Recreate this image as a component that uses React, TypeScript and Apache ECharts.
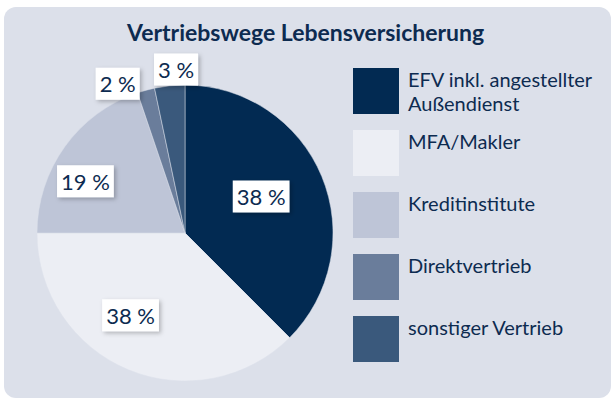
import React, { useEffect, useRef } from "react";
import * as echarts from "echarts";

const titleText = "Vertriebswege Lebensversicherung";
const categories = [
  "EFV inkl. angestellter Außendienst",
  "MFA/Makler",
  "Kreditinstitute",
  "Direktvertrieb",
  "sonstiger Vertrieb",
];
const legendLabels = [
  "EFV inkl. angestellter\nAußendienst",
  "MFA/Makler\n",
  "Kreditinstitute\n",
  "Direktvertrieb\n",
  "sonstiger Vertrieb\n",
];
// shares (percent)
const shares = [37.5, 37.5, 19.8, 1.9, 3.3];
// percentages as printed on the labels
const shareLabels = ["38 %", "38 %", "19 %", "2 %", "3 %"];
const colors = ["#022a52", "#eceef4", "#bec5d7", "#6a7d9b", "#3a597c"];
// label nudges from the default inside position
const labelShift = [
  [5, -7],
  [-25, 11],
  [-37, -7],
  [-47, -75],
  [-1, -87],
];

const FONT = "Lato, 'Open Sans', sans-serif";
const TEXT = "#0d2b50";

export default function App() {
  const ref = useRef<HTMLDivElement>(null);
  useEffect(() => {
    if (!ref.current) return;
    const chart = echarts.init(ref.current, undefined, { renderer: "svg" });
    chart.setOption({
      animation: false,
      backgroundColor: "#ffffff",
      graphic: [
        {
          type: "rect",
          z: -10,
          silent: true,
          shape: { x: 4, y: 7, width: 607, height: 391, r: 12 },
          style: { fill: "#dce0ea" },
        },
      ],
      title: {
        text: titleText,
        left: 127,
        top: 20,
        padding: 0,
        textStyle: {
          fontFamily: FONT,
          fontWeight: "bold",
          fontSize: 23,
          color: TEXT,
        },
      },
      legend: {
        orient: "vertical",
        left: 353,
        top: 67,
        padding: 0,
        itemWidth: 46,
        itemHeight: 46,
        itemGap: 14,
        icon: "rect",
        selectedMode: false,
        itemStyle: { borderWidth: 0 },
        data: categories,
        formatter: (name: string) => legendLabels[categories.indexOf(name)],
        textStyle: {
          fontFamily: FONT,
          fontSize: 20,
          lineHeight: 24,
          color: TEXT,
          padding: [0, 0, 0, 4],
        },
      },
      series: [
        {
          type: "pie",
          center: [185, 233],
          radius: 148,
          startAngle: 90,
          clockwise: true,
          silent: true,
          emphasis: { disabled: true },
          itemStyle: { borderColor: "#dce0ea", borderWidth: 0.5 },
          label: {
            show: true,
            position: "inside",
            formatter: (p: any) => shareLabels[p.dataIndex],
            fontFamily: FONT,
            fontSize: 22,
            lineHeight: 26,
            color: TEXT,
            backgroundColor: "#ffffff",
            padding: [3, 4, 3, 4],
            shadowColor: "rgba(0,0,0,0.25)",
            shadowBlur: 4,
            shadowOffsetX: 2,
            shadowOffsetY: 2,
          },
          labelLine: { show: false },
          labelLayout: (params: any) => ({
            dx: labelShift[params.dataIndex][0],
            dy: labelShift[params.dataIndex][1],
          }),
          data: categories.map((name, i) => ({
            name,
            value: shares[i],
            itemStyle: { color: colors[i] },
          })),
        },
      ],
    });
    return () => chart.dispose();
  }, []);
  return (
    <div
      ref={ref}
      style={{ position: "fixed", left: 0, top: 0, width: 611, height: 401 }}
    />
  );
}
